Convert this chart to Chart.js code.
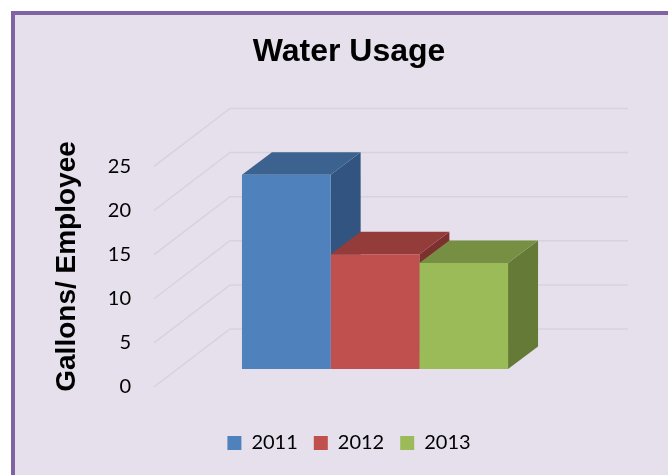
<!DOCTYPE html>
<html>
<head>
<meta charset="utf-8">
<title>Water Usage</title>
<script src="https://cdn.jsdelivr.net/npm/chart.js@4"></script>
<style>
  html, body { margin: 0; padding: 0; background: #ffffff; overflow: hidden; }
  #frame {
    position: absolute; left: 11px; top: 11px;
    width: 700px; height: 500px;
    border: 4px solid #8064a2; background: #e5e0ec;
  }
  #waterChart { position: absolute; left: 0; top: 0; }
</style>
</head>
<body>
<div id="frame"></div>
<canvas id="waterChart" width="668" height="475"></canvas>
<script>
// values
const years = ["2011", "2012", "2013"];
const gallonsPerEmployee = [22, 13, 12];
const yMin = 0;
const yMax = 25;
const yStep = 5;

const frontColors = ["#4f81bd", "#c0504d", "#9bbb59"];
const topColors = ["#3c638f", "#933c3a", "#778f43"];
const sideColors = ["#325480", "#7d302e", "#657a36"];

// fake 3d: depth of the bars and of the wall
const BAR_DX = 30, BAR_DY = 22.5;
const WALL_DX = 76, WALL_DY = 58, WALL_DROP = 18;

const threeD = {
  id: "threeD",
  beforeDatasetsDraw(chart) {
    const { ctx, chartArea, scales } = chart;
    const y = scales.y;
    ctx.save();

    // wall gridlines: short diagonal, then along the back
    ctx.strokeStyle = "#d6d3da";
    ctx.lineWidth = 1.5;
    y.ticks.forEach(t => {
      const fy = y.getPixelForValue(t.value) + WALL_DROP;
      ctx.beginPath();
      ctx.moveTo(chartArea.left, fy);
      ctx.lineTo(chartArea.left + WALL_DX, fy - WALL_DY);
      ctx.lineTo(chartArea.right + 32, fy - WALL_DY);
      ctx.stroke();
    });

    // side and top faces, left to right so later tops cover earlier sides
    chart.data.datasets.forEach((ds, i) => {
      chart.getDatasetMeta(i).data.forEach(bar => {
        const p = bar.getProps(["x", "y", "base", "width"], true);
        const l = p.x - p.width / 2, r = p.x + p.width / 2;

        ctx.fillStyle = sideColors[i];
        ctx.beginPath();
        ctx.moveTo(r, p.y);
        ctx.lineTo(r + BAR_DX, p.y - BAR_DY);
        ctx.lineTo(r + BAR_DX, p.base - BAR_DY);
        ctx.lineTo(r, p.base);
        ctx.closePath();
        ctx.fill();

        ctx.fillStyle = topColors[i];
        ctx.beginPath();
        ctx.moveTo(l, p.y);
        ctx.lineTo(r, p.y);
        ctx.lineTo(r + BAR_DX, p.y - BAR_DY);
        ctx.lineTo(l + BAR_DX, p.y - BAR_DY);
        ctx.closePath();
        ctx.fill();
      });
    });
    ctx.restore();
  }
};

const ctx = document.getElementById("waterChart").getContext("2d");
new Chart(ctx, {
  type: "bar",
  data: {
    labels: [""],
    datasets: years.map((yr, i) => ({
      label: yr,
      data: [gallonsPerEmployee[i]],
      backgroundColor: frontColors[i],
      borderWidth: 0,
      categoryPercentage: 0.602,
      barPercentage: 1.0
    }))
  },
  options: {
    responsive: false,
    animation: false,
    layout: { padding: { left: 30, right: 0, top: 0, bottom: 12 } },
    plugins: {
      title: {
        display: true,
        text: "Water Usage",
        color: "#000",
        font: { family: "Liberation Sans", size: 32, weight: "bold" },
        padding: { top: 33, bottom: 77 }
      },
      legend: {
        position: "bottom",
        labels: {
          boxWidth: 14,
          boxHeight: 14,
          padding: 16,
          color: "#000",
          font: { family: "Lato", size: 20 }
        }
      },
      tooltip: { enabled: false }
    },
    scales: {
      x: {
        grid: { display: false, drawTicks: false },
        border: { display: false },
        ticks: { display: false },
        afterFit: s => { s.height = 48; }
      },
      y: {
        min: yMin,
        max: yMax,
        ticks: {
          stepSize: yStep,
          padding: 23,
          labelOffset: WALL_DROP,
          color: "#000",
          font: { family: "Lato", size: 20 }
        },
        grid: { display: false, drawTicks: false },
        border: { display: false },
        title: {
          display: true,
          text: "Gallons/ Employee  ",
          color: "#000",
          font: { family: "Liberation Sans", size: 28, weight: "bold" },
          padding: { top: 20, bottom: 0 }
        },
        afterFit: s => { s.width = 124; }
      },
      spacer: {
        position: "right",
        grid: { display: false, drawTicks: false },
        border: { display: false },
        ticks: { display: false },
        afterFit: s => { s.width = 72; }
      }
    }
  },
  plugins: [threeD]
});
</script>
</body>
</html>
